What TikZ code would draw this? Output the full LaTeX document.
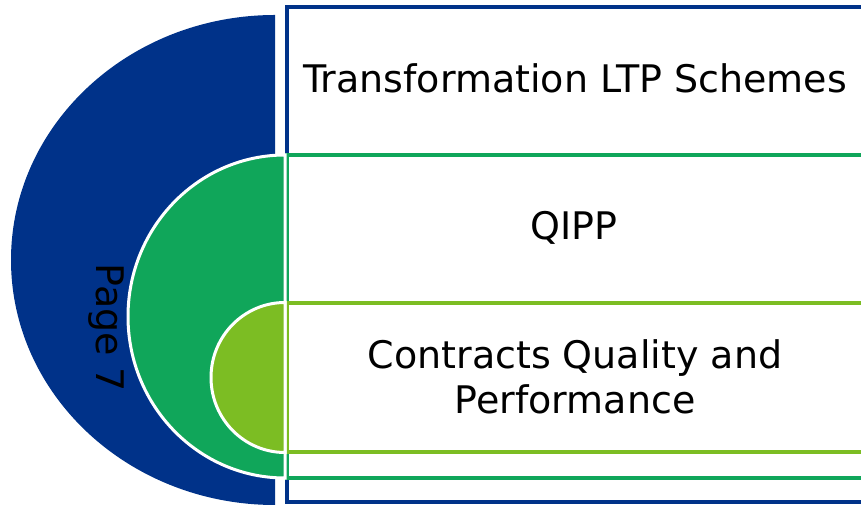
\documentclass[tikz,border=0pt]{standalone}
\usepackage{fontspec}
\setmainfont{DejaVu Sans}
\definecolor{darkblue}{RGB}{0,50,137}
\definecolor{midgreen}{RGB}{16,166,90}
\definecolor{limegreen}{RGB}{124,189,35}
\begin{document}
\begin{tikzpicture}[x=1pt,y=1pt,
  box/.style={fill=white,line width=3.2pt},
  half/.style={draw=white,line width=3pt},
  itemtext/.style={font=\fontsize{38}{45}\selectfont,text=black,align=center,inner sep=0pt}]
\useasboundingbox (0,0) rectangle (861,505);
\clip (0,0) rectangle (861,505);
% boxes on the right
\draw[box,draw=darkblue] (287,3) rectangle (870,498);
\draw[box,draw=midgreen] (287,27) rectangle (870,350);
\draw[box,draw=limegreen] (287,53) rectangle (870,202);
% nested half discs
\fill[darkblue] (275,490) arc[start angle=90,end angle=270,x radius=264,y radius=245] -- cycle;
\filldraw[half,fill=midgreen] (285,350) arc[start angle=90,end angle=270,x radius=157,y radius=161.5] -- cycle;
\filldraw[half,fill=limegreen] (285,202.5) arc[start angle=90,end angle=270,x radius=74,y radius=75] -- cycle;
% texts
\node[itemtext] (ltp) at (575,427) {Transformation LTP Schemes};
\node[itemtext] (qipp) at (574,277) {QIPP};
\node[itemtext] (cqp) at (575,128) {Contracts Quality and\\Performance};
\node[itemtext,rotate=-90] (page) at (106,177) {Page 7};
\end{tikzpicture}
\end{document}
